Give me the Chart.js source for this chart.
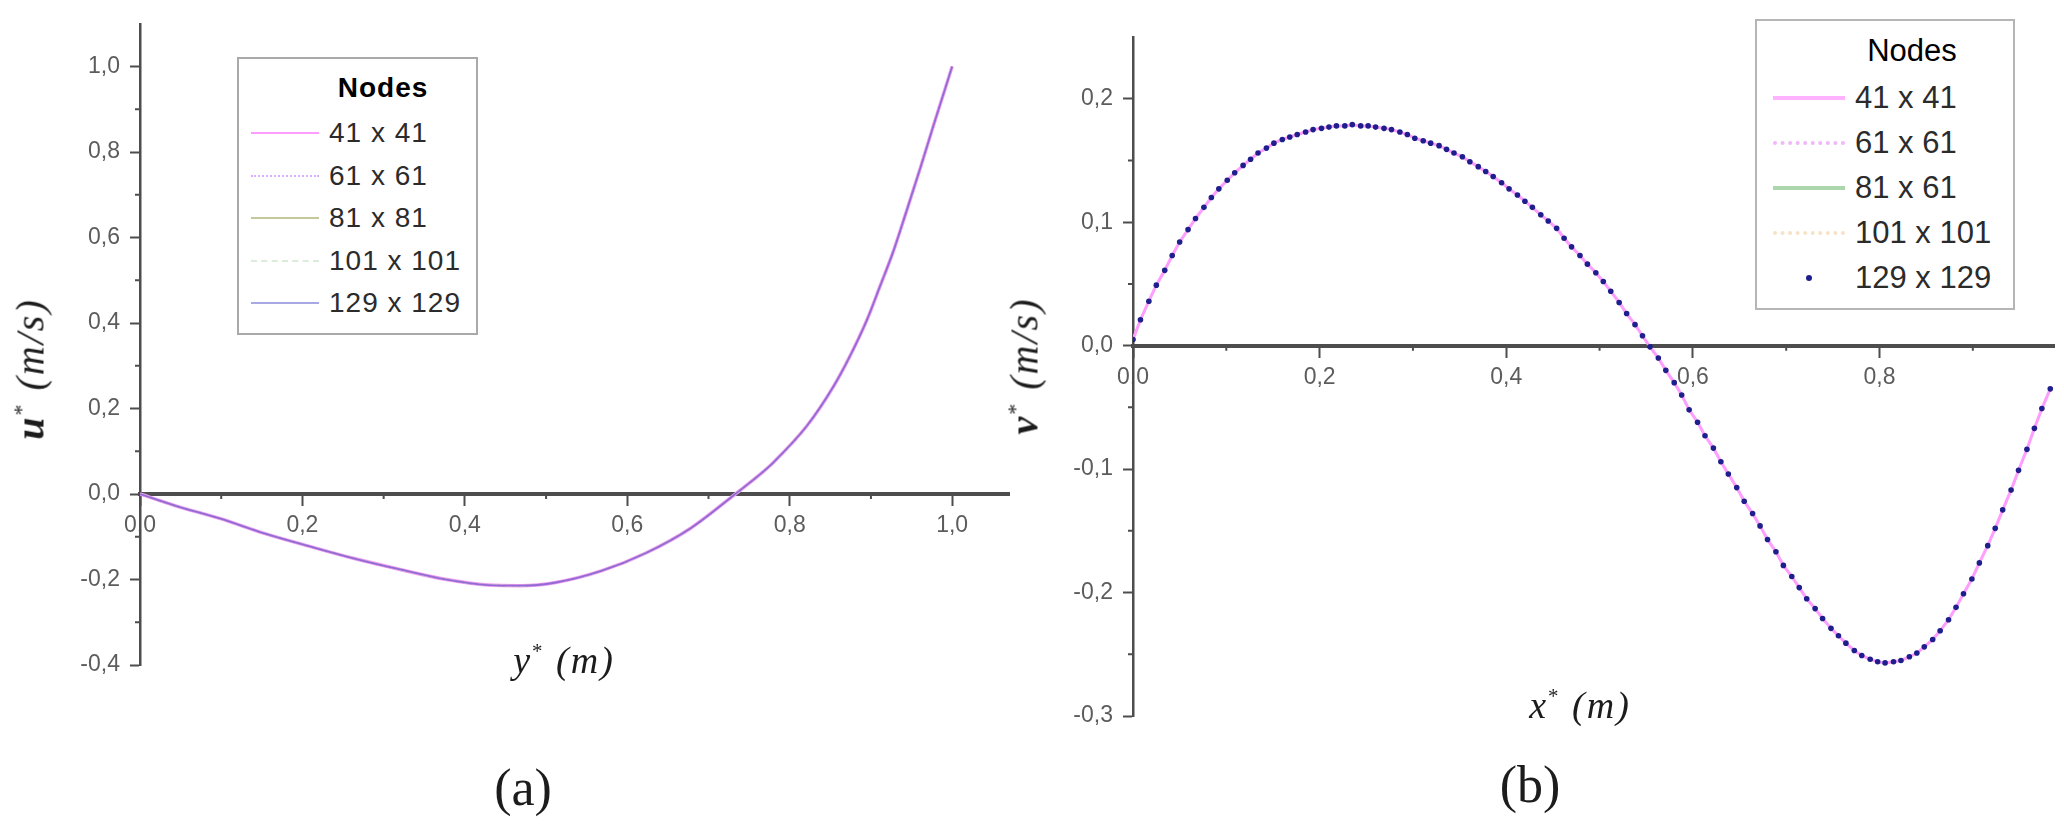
<!DOCTYPE html>
<html>
<head>
<meta charset="utf-8">
<script src="https://cdn.jsdelivr.net/npm/chart.js@4.4.1/dist/chart.umd.min.js"></script>
<style>
  html, body { margin: 0; padding: 0; background: #fff; }
  body { width: 2064px; height: 826px; position: relative; overflow: hidden; font-family: 'Liberation Sans', Arial, sans-serif; }
  canvas { position: absolute; top: 0; }
  #chartU { left: 0; }
  #chartV { left: 1040px; }
  .title { position: absolute; font-family: 'Liberation Serif', 'DejaVu Serif', serif; color: #1c1c1c; white-space: nowrap; transform: translate(-50%, -50%); }
  .title.rot { transform: translate(-50%, -50%) rotate(-90deg); }
  .title i { letter-spacing: 2px; }
  .star { font-size: 0.55em; vertical-align: 0.7em; font-style: normal; }
  .legend { position: absolute; box-sizing: border-box; background: #fff; }
  .legend div { position: absolute; white-space: nowrap; }
</style>
</head>
<body>
<canvas id="chartU" width="1040" height="826"></canvas>
<canvas id="chartV" width="1024" height="826"></canvas>

<div class="title rot" style="left:30px; top:369px; font-size:40px;"><i><b>u</b><span class="star">*</span> (m/s)</i></div>
<div class="title" style="left:564px; top:660px; font-size:38px;"><i>y<span class="star">*</span> (m)</i></div>
<div class="title" style="left:523px; top:787px; font-size:52px;">(a)</div>

<div class="title rot" style="left:1024px; top:366px; font-size:40px;"><i><b>v</b><span class="star">*</span> (m/s)</i></div>
<div class="title" style="left:1580px; top:705px; font-size:38px;"><i>x<span class="star">*</span> (m)</i></div>
<div class="title" style="left:1530px; top:784px; font-size:52px;">(b)</div>

<div id="legendU" class="legend"></div>
<div id="legendV" class="legend"></div>

<script>
// ---- values ----
const meshU = ['41 x 41', '61 x 61', '81 x 81', '101 x 101', '129 x 129'];
const meshV = ['41 x 41', '61 x 61', '81 x 61', '101 x 101', '129 x 129'];

// (a) u* along the vertical centre line (all meshes coincide)
const yStar = [0, 0.043, 0.098, 0.153, 0.209, 0.264, 0.319, 0.374, 0.429, 0.468,
               0.512, 0.568, 0.623, 0.678, 0.733, 0.766, 0.78, 0.821, 0.854, 0.874,
               0.895, 0.911, 0.928, 0.944, 0.961, 0.977, 1.0];
const uStar = [0, -0.027, -0.057, -0.092, -0.1225, -0.151, -0.176, -0.199, -0.213, -0.2145,
               -0.207, -0.18, -0.138, -0.08, 0, 0.05, 0.074, 0.159, 0.252, 0.322,
               0.407, 0.485, 0.57, 0.663, 0.764, 0.862, 1.0];

// (b) v* along the horizontal centre line, one value per plotted node
const xStar = [
  0, 0.008, 0.017, 0.025, 0.034, 0.042, 0.050, 0.059, 0.067, 0.076,
  0.084, 0.092, 0.101, 0.109, 0.118, 0.126, 0.134, 0.143, 0.151, 0.160,
  0.168, 0.176, 0.185, 0.193, 0.202, 0.210, 0.218, 0.227, 0.235, 0.244,
  0.252, 0.260, 0.269, 0.277, 0.286, 0.294, 0.302, 0.311, 0.319, 0.328,
  0.336, 0.344, 0.353, 0.361, 0.370, 0.378, 0.386, 0.395, 0.403, 0.412,
  0.420, 0.428, 0.437, 0.445, 0.454, 0.462, 0.470, 0.479, 0.487, 0.496,
  0.504, 0.512, 0.521, 0.529, 0.538, 0.546, 0.554, 0.563, 0.571, 0.580,
  0.588, 0.596, 0.605, 0.613, 0.622, 0.630, 0.638, 0.647, 0.655, 0.664,
  0.672, 0.680, 0.689, 0.697, 0.706, 0.714, 0.722, 0.731, 0.739, 0.748,
  0.756, 0.764, 0.773, 0.781, 0.790, 0.798, 0.806, 0.815, 0.823, 0.832,
  0.840, 0.848, 0.857, 0.865, 0.874, 0.882, 0.890, 0.899, 0.907, 0.916,
  0.924, 0.932, 0.941, 0.949, 0.958, 0.966, 0.974, 0.983
];
const vStar = [
  0.005, 0.021, 0.036, 0.049, 0.061, 0.073, 0.084, 0.094, 0.103, 0.112,
  0.120, 0.127, 0.134, 0.140, 0.146, 0.151, 0.156, 0.160, 0.164, 0.167,
  0.169, 0.171, 0.173, 0.175, 0.176, 0.177, 0.178, 0.178, 0.179, 0.178,
  0.178, 0.177, 0.176, 0.175, 0.173, 0.171, 0.168, 0.166, 0.164, 0.162,
  0.159, 0.156, 0.153, 0.149, 0.145, 0.141, 0.137, 0.132, 0.127, 0.122,
  0.117, 0.112, 0.106, 0.101, 0.095, 0.087, 0.080, 0.073, 0.066, 0.059,
  0.052, 0.044, 0.035, 0.026, 0.017, 0.008, -0.001, -0.010, -0.020, -0.030,
  -0.040, -0.052, -0.062, -0.073, -0.083, -0.094, -0.104, -0.115, -0.126, -0.136,
  -0.146, -0.157, -0.167, -0.178, -0.187, -0.196, -0.205, -0.213, -0.221, -0.229,
  -0.235, -0.241, -0.247, -0.251, -0.254, -0.256, -0.257, -0.256, -0.255, -0.252,
  -0.249, -0.244, -0.238, -0.231, -0.222, -0.212, -0.201, -0.189, -0.176, -0.162,
  -0.148, -0.133, -0.117, -0.101, -0.084, -0.067, -0.051, -0.035
];

// axis ticks
const uTicksX = [0, 0.2, 0.4, 0.6, 0.8, 1.0];
const uTicksY = [-0.4, -0.2, 0, 0.2, 0.4, 0.6, 0.8, 1.0];
const uMinorX = [0.1, 0.3, 0.5, 0.7, 0.9];
const uMinorY = [-0.3, -0.1, 0.1, 0.3, 0.5, 0.7, 0.9];
const vTicksX = [0, 0.2, 0.4, 0.6, 0.8];
const vTicksY = [-0.3, -0.2, -0.1, 0, 0.1, 0.2];
const vMinorX = [0.1, 0.3, 0.5, 0.7, 0.9];
const vMinorY = [-0.25, -0.15, -0.05, 0.05, 0.15];

// ---- styling ----
const AXIS = '#4d4d4d';
const TICK = '#5c5c5c';

// line = colour on the plot, key = colour of the legend sample
const uStyles = [
  { line: '#f29af2', key: '#ff9cff', width: 3.5, dash: [],           order: 5, css: 'solid' },
  { line: '#cfa6f5', key: '#d6b2fa', width: 2,   dash: [2, 3],       order: 4, css: 'dotted' },
  { line: '#bdbd95', key: '#c6c89c', width: 1.5, dash: [],           order: 3, css: 'solid' },
  { line: '#dcecdc', key: '#dcecdc', width: 1.5, dash: [6, 3, 2, 3], order: 2, css: 'dashed' },
  { line: '#9468d8', key: '#a8a8e4', width: 1.8, dash: [],           order: 1, css: 'solid' }
];
const vStyles = [
  { line: '#ff9eff', key: '#ffb2ff', width: 3,   dash: [],     order: 2, css: 'solid' },
  { line: '#f0b4f8', key: '#f0b8f8', width: 2,   dash: [2, 3], order: 3, css: 'dotted' },
  { line: '#b0dab0', key: '#acd6ac', width: 2,   dash: [],     order: 5, css: 'solid' },
  { line: '#f6dfc4', key: '#f8e2c6', width: 2,   dash: [2, 3], order: 4, css: 'dotted' },
  { line: '#1e1e8c', key: '#1e1e8c', width: 0,   dash: [],     order: 1, css: 'dot' }
];

function comma(v) {
  const n = Math.abs(v) < 1e-9 ? 0 : v;
  return n.toFixed(1).replace('.', ',');
}

// short unlabeled ticks between the labelled ones
const minorTicks = {
  id: 'minorTicks',
  beforeDatasetsDraw(chart, args, opts) {
    const { ctx, chartArea, scales: { x, y } } = chart;
    const y0 = y.getPixelForValue(0);
    ctx.save();
    ctx.strokeStyle = AXIS;
    ctx.lineWidth = 2;
    ctx.beginPath();
    opts.x.forEach(v => {
      const px = x.getPixelForValue(v);
      ctx.moveTo(px, y0);
      ctx.lineTo(px, y0 + opts.len);
    });
    opts.y.forEach(v => {
      const py = y.getPixelForValue(v);
      ctx.moveTo(chartArea.left, py);
      ctx.lineTo(chartArea.left - opts.len, py);
    });
    ctx.stroke();
    ctx.restore();
  }
};

function axis(ticks, min, max, padding, borderWidth) {
  return {
    type: 'linear',
    min, max,
    afterBuildTicks: s => { s.ticks = ticks.map(value => ({ value })); },
    ticks: {
      callback: comma, color: TICK, padding,
      font: { family: 'Liberation Sans', size: 23 },
      autoSkip: false, maxRotation: 0
    },
    grid: { drawOnChartArea: false, tickLength: 10, tickWidth: 2, tickColor: AXIS },
    border: { display: true, color: AXIS, width: borderWidth }
  };
}

function makeChart(id, datasets, cfg) {
  const xScale = axis(cfg.ticksX, cfg.xMin, cfg.xMax, 8, 4);
  xScale.position = { y: 0 };
  const yScale = axis(cfg.ticksY, cfg.yMin, cfg.yMax, 10, 2.5);
  yScale.position = 'left';
  yScale.afterFit = s => { s.width = cfg.yWidth; };

  return new Chart(document.getElementById(id), {
    type: 'line',
    data: { datasets },
    plugins: [minorTicks],
    options: {
      responsive: false,
      devicePixelRatio: 1,
      animation: false,
      layout: { padding: cfg.padding },
      scales: { x: xScale, y: yScale },
      plugins: {
        legend: { display: false },
        tooltip: { enabled: false },
        minorTicks: { x: cfg.minorX, y: cfg.minorY, len: 5 }
      }
    }
  });
}

// ---- panel (a) ----
const uPoints = yStar.map((x, i) => ({ x, y: uStar[i] }));
makeChart('chartU', meshU.map((label, i) => ({
  label,
  data: uPoints,
  borderColor: uStyles[i].line,
  borderWidth: uStyles[i].width,
  borderDash: uStyles[i].dash,
  order: uStyles[i].order,
  pointRadius: 0,
  cubicInterpolationMode: 'monotone',
  fill: false
})), {
  ticksX: uTicksX, ticksY: uTicksY, minorX: uMinorX, minorY: uMinorY,
  xMin: 0, xMax: 1.07, yMin: -0.4, yMax: 1.1,
  yWidth: 140,
  padding: { left: 0, top: 19, right: 31, bottom: 161 }
});

// ---- panel (b) ----
const vPoints = xStar.map((x, i) => ({ x, y: vStar[i] }));
makeChart('chartV', meshV.map((label, i) => {
  const st = vStyles[i];
  const isDots = st.css === 'dot';
  return {
    label,
    data: vPoints,
    showLine: !isDots,
    borderColor: st.line,
    borderWidth: st.width,
    borderDash: st.dash,
    order: st.order,
    pointRadius: isDots ? 2.8 : 0,
    pointBackgroundColor: st.line,
    pointBorderWidth: 0,
    fill: false
  };
}), {
  ticksX: vTicksX, ticksY: vTicksY, minorX: vMinorX, minorY: vMinorY,
  xMin: 0, xMax: 0.987, yMin: -0.3, yMax: 0.25,
  yWidth: 93,
  padding: { left: 0, top: 37, right: 10, bottom: 110 }
});

// ---- boxed legends with a "Nodes" heading ----
function buildLegend(el, labels, styles, g) {
  Object.assign(el.style, {
    left: g.left + 'px', top: g.top + 'px', width: g.width + 'px', height: g.height + 'px',
    border: '2px solid ' + g.border, fontSize: g.font + 'px', color: '#2b2b2b', letterSpacing: g.spacing + 'px'
  });
  const head = document.createElement('div');
  head.textContent = 'Nodes';
  Object.assign(head.style, {
    left: g.titleX + 'px', top: g.titleY + 'px', transform: 'translate(-50%, -50%)',
    fontWeight: g.titleWeight, color: '#000'
  });
  el.appendChild(head);

  labels.forEach((label, i) => {
    const cy = g.firstRow + i * g.rowGap;
    const st = styles[i];
    const key = document.createElement('div');
    if (st.css === 'dot') {
      Object.assign(key.style, {
        left: (g.keyX0 + g.keyX1) / 2 - 3 + 'px', top: cy - 3 + 'px',
        width: '6px', height: '6px', borderRadius: '50%', background: st.key
      });
    } else {
      Object.assign(key.style, {
        left: g.keyX0 + 'px', top: cy - g.keyWidth / 2 + 'px', width: (g.keyX1 - g.keyX0) + 'px',
        height: '0px', borderTop: g.keyWidth + 'px ' + st.css + ' ' + st.key
      });
    }
    el.appendChild(key);

    const txt = document.createElement('div');
    txt.textContent = label;
    Object.assign(txt.style, { left: g.textX + 'px', top: cy + 'px', transform: 'translateY(-50%)' });
    el.appendChild(txt);
  });
}

buildLegend(document.getElementById('legendU'), meshU, uStyles, {
  left: 237, top: 57, width: 241, height: 278, border: '#a9a9a9',
  font: 28, spacing: 1, titleX: 144, titleY: 29, titleWeight: 'bold',
  firstRow: 74, rowGap: 42.5, keyX0: 12, keyX1: 80, keyWidth: 2, textX: 90
});
buildLegend(document.getElementById('legendV'), meshV, vStyles, {
  left: 1755, top: 19, width: 260, height: 291, border: '#b5b5b5',
  font: 31, spacing: 0, titleX: 155, titleY: 30, titleWeight: 'normal',
  firstRow: 77, rowGap: 45, keyX0: 16, keyX1: 88, keyWidth: 4, textX: 98
});
</script>
</body>
</html>
